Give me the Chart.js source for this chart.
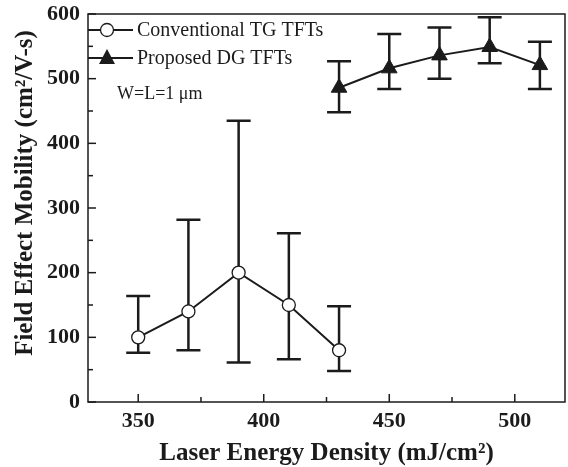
<!DOCTYPE html>
<html>
<head>
<meta charset="utf-8">
<script src="https://cdn.jsdelivr.net/npm/chart.js@4"></script>
<style>
  html, body { margin: 0; padding: 0; background: #fff; }
  #wrap { width: 568px; height: 467px; }
</style>
</head>
<body>
<div id="wrap"><canvas id="chart" width="568" height="467"></canvas></div>
<script>
// data
const energy = [350, 370, 390, 410, 430];
const tgMobility = [100, 140, 200, 150, 80];
const tgHigh = [164, 282, 435, 261, 148];
const tgLow = [76, 80, 61, 66, 48];

const energyDG = [430, 450, 470, 490, 510];
const dgMobility = [486, 516, 536, 549, 521];
const dgHigh = [527, 569, 579, 595, 557];
const dgLow = [448, 484, 500, 524, 484];

const xTickVals = [350, 375, 400, 425, 450, 475, 500];
const yTickVals = [0, 50, 100, 150, 200, 250, 300, 350, 400, 450, 500, 550, 600];

const ink = "#1b1b1b";
const serif = "'Liberation Serif', 'DejaVu Serif', serif";
const yTitle = "Field Effect Mobility (cm\u00b2/V-s)";

const errBars = [
  { x: energy, hi: tgHigh, lo: tgLow },
  { x: energyDG, hi: dgHigh, lo: dgLow },
];

// error bars, inward ticks, frame, legend and note
const extras = {
  id: "extras",
  beforeDatasetsDraw(chart) {
    const ctx = chart.ctx;
    const xs = chart.scales.x, ys = chart.scales.y;
    ctx.save();
    ctx.strokeStyle = ink;
    ctx.lineWidth = 2.5;
    errBars.forEach(function (e) {
      e.x.forEach(function (v, i) {
        const px = xs.getPixelForValue(v);
        const top = ys.getPixelForValue(e.hi[i]);
        const bot = ys.getPixelForValue(e.lo[i]);
        ctx.beginPath();
        ctx.moveTo(px, top); ctx.lineTo(px, bot);
        ctx.moveTo(px - 12, top); ctx.lineTo(px + 12, top);
        ctx.moveTo(px - 12, bot); ctx.lineTo(px + 12, bot);
        ctx.stroke();
      });
    });
    ctx.restore();
  },
  afterDraw(chart) {
    const ctx = chart.ctx;
    const a = chart.chartArea;
    const xs = chart.scales.x, ys = chart.scales.y;
    ctx.save();
    ctx.strokeStyle = ink;
    ctx.lineWidth = 1.5;
    ctx.strokeRect(a.left, a.top, a.right - a.left, a.bottom - a.top);
    // inward ticks
    xs.ticks.forEach(function (t) {
      const px = xs.getPixelForValue(t.value);
      const len = t.value % 50 === 0 ? 8 : 5;
      ctx.beginPath();
      ctx.moveTo(px, a.bottom); ctx.lineTo(px, a.bottom - len);
      ctx.stroke();
    });
    ys.ticks.forEach(function (t) {
      const py = ys.getPixelForValue(t.value);
      const len = t.value % 100 === 0 ? 8 : 5;
      ctx.beginPath();
      ctx.moveTo(a.left, py); ctx.lineTo(a.left + len, py);
      ctx.stroke();
    });

    // y title, sitting a little above the axis centre as in the figure
    ctx.fillStyle = ink;
    ctx.save();
    ctx.translate(26, 193);
    ctx.rotate(-Math.PI / 2);
    ctx.font = "bold 25px " + serif;
    ctx.textAlign = "center";
    ctx.textBaseline = "middle";
    ctx.fillText(yTitle, 0, 0);
    ctx.restore();

    // legend
    const rows = [
      { y: 30, ds: chart.data.datasets[0] },
      { y: 58, ds: chart.data.datasets[1] },
    ];
    ctx.font = "20px " + serif;
    ctx.textBaseline = "middle";
    rows.forEach(function (r) {
      ctx.lineWidth = 2;
      ctx.beginPath();
      ctx.moveTo(a.left, r.y); ctx.lineTo(a.left + 45, r.y);
      ctx.stroke();
      const mx = a.left + 19;
      if (r.ds.pointStyle === "triangle") {
        ctx.beginPath();
        ctx.moveTo(mx, r.y - 9);
        ctx.lineTo(mx + 8, r.y + 6);
        ctx.lineTo(mx - 8, r.y + 6);
        ctx.closePath();
        ctx.fill();
      } else {
        ctx.beginPath();
        ctx.arc(mx, r.y, 6.5, 0, Math.PI * 2);
        ctx.fillStyle = "#fff";
        ctx.fill();
        ctx.lineWidth = 1.3;
        ctx.stroke();
        ctx.fillStyle = ink;
      }
      ctx.fillText(r.ds.label, a.left + 49, r.y + 1);
    });
    ctx.font = "18px " + serif;
    ctx.fillText("W=L=1 \u03bcm", 117, 94);
    ctx.restore();
  },
};

new Chart(document.getElementById("chart"), {
  type: "line",
  data: {
    datasets: [
      {
        label: "Conventional TG TFTs",
        data: energy.map((x, i) => ({ x: x, y: tgMobility[i] })),
        borderColor: ink,
        borderWidth: 2,
        pointStyle: "circle",
        pointRadius: 6.5,
        pointBorderWidth: 1.3,
        pointBackgroundColor: "#fff",
        pointBorderColor: ink,
        tension: 0,
      },
      {
        label: "Proposed DG TFTs",
        data: energyDG.map((x, i) => ({ x: x, y: dgMobility[i] })),
        borderColor: ink,
        borderWidth: 2,
        pointStyle: "triangle",
        pointRadius: 9,
        pointBorderWidth: 1,
        pointBackgroundColor: ink,
        pointBorderColor: ink,
        tension: 0,
      },
    ],
  },
  options: {
    responsive: false,
    animation: false,
    clip: false,
    layout: { autoPadding: false, padding: { top: 14, right: 3, left: 0, bottom: 0 } },
    plugins: { legend: { display: false }, tooltip: { enabled: false } },
    scales: {
      x: {
        type: "linear",
        min: 330,
        max: 520,
        afterBuildTicks: (s) => { s.ticks = xTickVals.map((v) => ({ value: v })); },
        afterFit: (s) => { s.height = 65; s.paddingLeft = 0; s.paddingRight = 0; },
        grid: { display: false, drawTicks: false },
        border: { display: false },
        ticks: {
          color: ink,
          padding: 6,
          maxRotation: 0,
          autoSkip: false,
          font: { family: serif, size: 22, weight: "bold" },
          callback: (v) => (v % 50 === 0 ? String(v) : ""),
        },
        title: {
          display: true,
          text: "Laser Energy Density (mJ/cm\u00b2)",
          color: ink,
          font: { family: serif, size: 25, weight: "bold" },
          padding: { top: 0, bottom: -2 },
        },
      },
      y: {
        min: 0,
        max: 600,
        afterBuildTicks: (s) => { s.ticks = yTickVals.map((v) => ({ value: v })); },
        afterFit: (s) => { s.width = 88; s.paddingTop = 0; s.paddingBottom = 0; },
        grid: { display: false, drawTicks: false },
        border: { display: false },
        ticks: {
          color: ink,
          padding: 8,
          autoSkip: false,
          font: { family: serif, size: 22, weight: "bold" },
          callback: (v) => (v % 100 === 0 ? String(v) : ""),
        },
        title: { display: false },
      },
    },
  },
  plugins: [extras],
});
</script>
</body>
</html>
